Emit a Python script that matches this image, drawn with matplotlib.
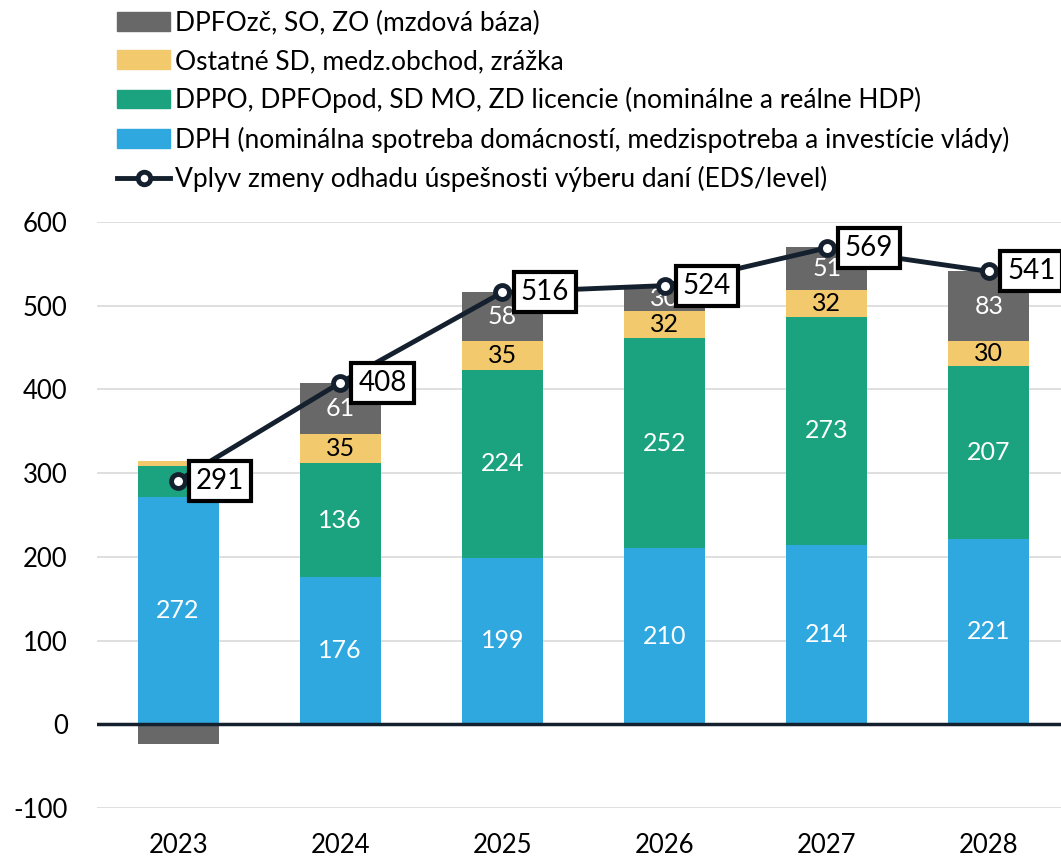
import matplotlib.pyplot as plt
from matplotlib.lines import Line2D
from matplotlib.patches import Patch
import numpy as np

plt.rcParams['font.family'] = ['Lato', 'DejaVu Sans']
plt.rcParams['axes.unicode_minus'] = False

years = ['2023', '2024', '2025', '2026', '2027', '2028']
dph = [272, 176, 199, 210, 214, 221]
dppo = [36, 136, 224, 252, 273, 207]
ostatne = [6, 35, 35, 32, 32, 30]
dpfo = [-24, 61, 58, 30, 51, 83]
vplyv = [291, 408, 516, 524, 569, 541]

# popisky segmentov (2023 len DPH)
show_dph = [True] * 6
show_dppo = [False, True, True, True, True, True]
show_ost = [False, True, True, True, True, True]
show_dpfo = [False, True, True, True, True, True]

c_dpfo = '#686868'
c_ost = '#F2C96C'
c_dppo = '#1BA37F'
c_dph = '#2FA8E0'
c_line = '#14202E'

W, H = 1061, 857
fig = plt.figure(figsize=(W / 100, H / 100), dpi=100)
ax = fig.add_axes([97 / W, (H - 808) / H, 973 / W, (808 - 222) / H])

x = np.arange(len(years))
bw = 0.5

pos_bottom = np.zeros(len(years))
b1 = ax.bar(x, dph, bw, color=c_dph, zorder=2)
pos_bottom += dph
b2 = ax.bar(x, dppo, bw, bottom=pos_bottom, color=c_dppo, zorder=2)
pos_bottom += dppo
b3 = ax.bar(x, ostatne, bw, bottom=pos_bottom, color=c_ost, zorder=2)
pos_bottom += ostatne
dpfo_bottom = [pos_bottom[i] if v >= 0 else 0 for i, v in enumerate(dpfo)]
b4 = ax.bar(x, dpfo, bw, bottom=dpfo_bottom, color=c_dpfo, zorder=2)


def label_bars(bars, vals, show, color):
    for rect, v, s in zip(bars, vals, show):
        if not s:
            continue
        cy = rect.get_y() + rect.get_height() / 2
        ax.text(rect.get_x() + rect.get_width() / 2, cy, str(v), ha='center',
                va='center', fontsize=18, color=color, zorder=4)


label_bars(b1, dph, show_dph, 'white')
label_bars(b2, dppo, show_dppo, 'white')
label_bars(b3, ostatne, show_ost, 'black')
label_bars(b4, dpfo, show_dpfo, 'white')

ax.plot(x, vplyv, color=c_line, lw=3.5, marker='o', ms=10, mfc='white',
        mec=c_line, mew=3.5, zorder=5)
for xi, v in zip(x, vplyv):
    ax.annotate(str(v), (xi, v), xytext=(13, 0), textcoords='offset points',
                ha='left', va='center', fontsize=20, color='black', zorder=6,
                bbox=dict(boxstyle='square,pad=0.25', fc='white', ec='black', lw=3))

ax.set_xlim(-0.5, 5.5)
ax.set_ylim(-100, 600)
ax.set_yticks(range(-100, 601, 100))
ax.set_xticks(x)
ax.set_xticklabels(years)
ax.tick_params(axis='both', length=0, labelsize=18.5, colors='black')
ax.tick_params(axis='y', pad=21)
ax.tick_params(axis='x', pad=18)
ax.grid(axis='y', color='#D9D9D9', lw=1.2, zorder=0)
ax.axhline(0, color=c_line, lw=2.5, zorder=3)
for s in ax.spines.values():
    s.set_visible(False)

handles = [
    Patch(color=c_dpfo, label='DPFOzč, SO, ZO (mzdová báza)'),
    Patch(color=c_ost, label='Ostatné SD, medz.obchod, zrážka'),
    Patch(color=c_dppo, label='DPPO, DPFOpod, SD MO, ZD licencie (nominálne a reálne HDP)'),
    Patch(color=c_dph, label='DPH (nominálna spotreba domácností, medzispotreba a investície vlády)'),
    Line2D([], [], color=c_line, lw=3.5, marker='o', ms=9, mfc='white', mec=c_line, mew=3.5,
           label='Vplyv zmeny odhadu úspešnosti výberu daní (EDS/level)'),
]
fig.legend(handles=handles, loc='upper left', bbox_to_anchor=(104 / W, 1.003), frameon=False,
           fontsize=19, handlelength=2.0, handleheight=0.7, handletextpad=0.2,
           labelspacing=0.5, borderaxespad=0.1)

fig.savefig('out.png', dpi=100)
